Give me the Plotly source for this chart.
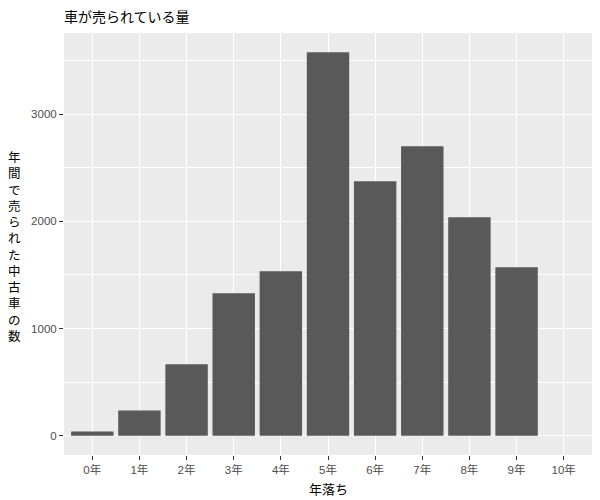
import plotly.graph_objects as go

categories = ["0年", "1年", "2年", "3年", "4年", "5年", "6年", "7年", "8年", "9年", "10年"]
counts = [40, 236, 667, 1329, 1535, 3577, 2374, 2700, 2038, 1572, 0]
y_ticks = [0, 1000, 2000, 3000]

title_text = "車が売られている量"
x_title = "年落ち"
y_title = "年間で売られた中古車の数"

FONT = "Noto Sans CJK JP"
TICKFONT = "Liberation Sans, Arial, Noto Sans CJK JP"

# page body has an 8px margin; work in figure coordinates (page - 8)
OFF = 8
W, H = 600, 500
L, T = 64 - OFF, 33 - OFF
R = W - (592 - OFF)
B = H - (455 - OFF)
PW, PH = W - L - R, H - T - B

fig = go.Figure()
fig.add_trace(go.Bar(
    x=list(range(len(categories))),
    y=counts,
    width=0.9,
    marker=dict(color="#595959", line=dict(width=0)),
    hoverinfo="x+y",
))

ymax = max(counts)
fig.update_layout(
    width=W, height=H,
    margin=dict(l=L, r=R, t=T, b=B, autoexpand=False),
    paper_bgcolor="white",
    plot_bgcolor="#EBEBEB",
    showlegend=False,
    font=dict(family=FONT),
    title=dict(text=title_text, x=L / W, xanchor="left", y=1 - (17 - OFF) / H, yanchor="middle",
               font=dict(size=14, color="black", family=FONT), automargin=False),
    xaxis=dict(
        automargin=False,
        tickmode="array",
        tickvals=list(range(len(categories))),
        ticktext=categories,
        range=[-0.6, len(categories) - 0.4],
        showgrid=True, gridcolor="white", gridwidth=1.4,
        zeroline=False,
        ticks="outside", ticklen=4, tickcolor="#333333", tickwidth=1,
        tickfont=dict(size=11.5, color="#4D4D4D", family=TICKFONT),
        fixedrange=True,
    ),
    yaxis=dict(
        automargin=False,
        tickmode="array",
        tickvals=y_ticks,
        ticktext=[str(v) for v in y_ticks],
        range=[-0.05 * ymax, 1.05 * ymax],
        showgrid=True, gridcolor="white", gridwidth=1.4,
        zeroline=False,
        ticks="outside", ticklen=4, tickcolor="#333333", tickwidth=1,
        tickfont=dict(size=11.5, color="#4D4D4D", family=TICKFONT),
        minor=dict(tickmode="array", tickvals=[500, 1500, 2500, 3500], showgrid=True,
                   gridcolor="white", gridwidth=0.7, ticks=""),
        fixedrange=True,
    ),
)

fig.add_annotation(
    text="<br>".join(list(y_title)),
    xref="paper", yref="paper",
    x=((14 - OFF) - L) / PW, xanchor="center",
    y=1 - ((246 - OFF) - T) / PH, yanchor="middle",
    showarrow=False,
    align="center",
    font=dict(size=12.5, color="black", family=FONT),
)

fig.add_annotation(
    text=x_title,
    xref="paper", yref="paper",
    x=0.5, xanchor="center",
    y=-((488 - OFF) - (T + PH)) / PH, yanchor="middle",
    showarrow=False,
    font=dict(size=13, color="black", family=FONT),
)

fig.write_html("out.html")
